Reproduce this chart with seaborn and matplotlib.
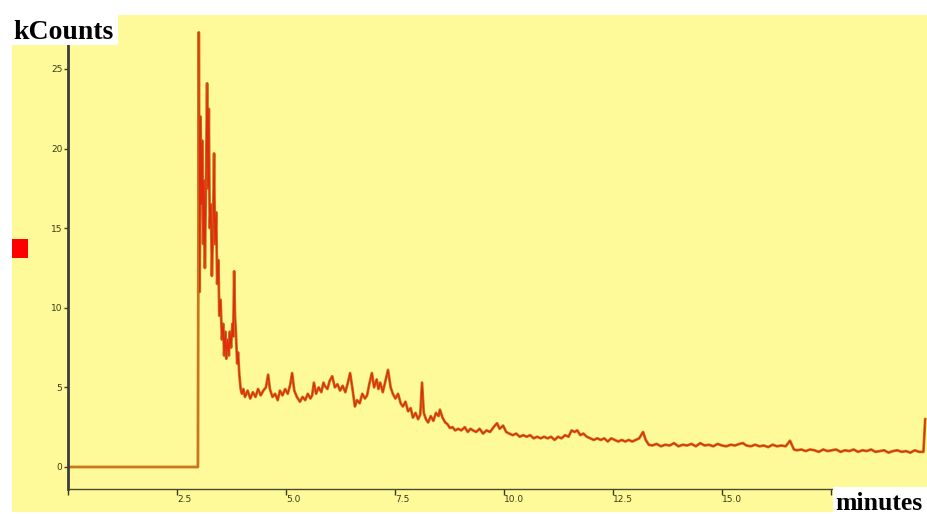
import matplotlib
matplotlib.use("Agg")
import matplotlib.pyplot as plt
from matplotlib.patches import Rectangle
import pandas as pd
import seaborn as sns

# Chromatogram trace: retention time (minutes) and detector signal (kCounts)
time_min = [
    0.00, 2.98, 3.00, 3.02, 3.04, 3.06, 3.08, 3.10, 3.12, 3.14, 3.17, 3.19,
    3.21, 3.23, 3.25, 3.28, 3.30, 3.33, 3.35, 3.37, 3.40, 3.42, 3.45, 3.47,
    3.50, 3.53, 3.56, 3.58, 3.61, 3.63, 3.66, 3.69, 3.71, 3.74, 3.77, 3.79,
    3.81, 3.83, 3.85, 3.88, 3.90, 3.93, 3.96, 3.99, 4.02,
    4.06, 4.12, 4.18, 4.24, 4.30, 4.36, 4.42, 4.48, 4.54, 4.59, 4.63, 4.69,
    4.75, 4.81, 4.86, 4.92, 4.98, 5.04, 5.10, 5.14, 5.19, 5.25, 5.32, 5.38,
    5.44, 5.50, 5.56, 5.60, 5.64, 5.69, 5.75, 5.81, 5.86, 5.89, 5.95, 6.00,
    6.06, 6.12, 6.18, 6.24, 6.30, 6.36, 6.42, 6.47, 6.52, 6.58, 6.63, 6.69,
    6.75, 6.81, 6.86, 6.91, 6.97, 7.02, 7.08, 7.12, 7.16, 7.22, 7.28, 7.34,
    7.40, 7.45, 7.51, 7.57, 7.63, 7.68, 7.74, 7.80, 7.86, 7.91, 7.97, 8.03,
    8.08, 8.12, 8.16, 8.21, 8.26, 8.32, 8.38, 8.44, 8.50, 8.53, 8.59, 8.65,
    8.70, 8.76, 8.82, 8.88, 8.95, 9.02, 9.10, 9.17, 9.23, 9.29, 9.36, 9.44,
    9.52, 9.60, 9.68, 9.76, 9.84, 9.90, 9.98, 10.05, 10.12, 10.20, 10.28,
    10.36, 10.44, 10.52, 10.60, 10.68, 10.76, 10.84, 10.92, 11.00, 11.08,
    11.16, 11.24, 11.32, 11.40, 11.48, 11.55, 11.62, 11.68, 11.75, 11.82,
    11.90, 11.98, 12.06, 12.14, 12.22, 12.30, 12.38, 12.46, 12.54, 12.62,
    12.70, 12.78, 12.86, 12.94, 13.02, 13.10, 13.19, 13.25, 13.32, 13.40,
    13.50, 13.60, 13.70, 13.80, 13.90, 14.00, 14.10, 14.20, 14.30, 14.40,
    14.50, 14.60, 14.70, 14.80, 14.90, 15.00, 15.10, 15.20, 15.30, 15.40,
    15.48, 15.56, 15.66, 15.76, 15.86, 15.96, 16.06, 16.16, 16.26, 16.36,
    16.46, 16.56, 16.65, 16.72, 16.82, 16.92, 17.02, 17.12, 17.22, 17.32,
    17.42, 17.52, 17.62, 17.72, 17.82, 17.92, 18.02, 18.12, 18.22, 18.32,
    18.42, 18.52, 18.62, 18.72, 18.82, 18.92, 19.02, 19.12, 19.22, 19.32,
    19.42, 19.52, 19.62, 19.66,
]
kcounts = [
    0.0, 0.0, 27.3, 11.0, 22.0, 16.5, 20.5, 14.0, 18.0, 12.5, 19.0, 24.1,
    17.5, 22.5, 15.0, 16.5, 12.0, 15.5, 19.7, 14.0, 16.0, 11.5, 13.0, 9.5,
    10.5, 8.0, 9.0, 7.0, 8.5, 6.8, 8.0, 7.0, 8.5, 7.5, 9.0, 8.2,
    12.3, 9.5, 8.5, 6.5, 7.2, 5.8, 4.9, 4.6, 4.9,
    4.4, 4.8, 4.3, 4.7, 4.4, 4.9, 4.5, 4.8, 5.0, 5.8, 4.9, 4.4,
    4.6, 4.2, 4.8, 4.5, 4.9, 4.6, 5.2, 5.9, 4.8, 4.4, 4.1, 4.4,
    4.2, 4.6, 4.3, 4.5, 5.3, 4.6, 5.0, 4.7, 5.3, 5.1, 4.9, 5.4,
    5.7, 5.0, 5.2, 4.8, 5.1, 4.7, 5.3, 5.9, 5.0, 3.8, 4.2, 4.0,
    4.6, 4.3, 4.5, 5.2, 5.9, 5.0, 5.5, 4.9, 5.3, 4.7, 5.4, 6.1,
    5.0, 4.6, 4.3, 4.6, 4.0, 3.8, 4.1, 3.5, 3.7, 3.1, 3.4, 3.0,
    3.3, 5.3, 3.4, 3.0, 2.8, 3.2, 2.9, 3.4, 3.2, 3.6, 3.1, 2.8,
    2.7, 2.45, 2.5, 2.3, 2.4, 2.3, 2.5, 2.2, 2.4, 2.3, 2.2, 2.4,
    2.1, 2.3, 2.2, 2.5, 2.75, 2.4, 2.6, 2.2, 2.1, 2.0, 2.1,
    1.9, 2.0, 1.9, 2.0, 1.8, 1.9, 1.8, 1.9, 1.8, 1.9,
    1.7, 1.9, 1.8, 2.0, 1.9, 2.3, 2.2, 2.3, 2.0, 2.1,
    1.9, 1.8, 1.7, 1.8, 1.7, 1.8, 1.6, 1.8, 1.7, 1.6,
    1.7, 1.6, 1.7, 1.6, 1.7, 1.8, 2.2, 1.7, 1.4, 1.35,
    1.45, 1.3, 1.4, 1.35, 1.5, 1.3, 1.4, 1.35, 1.45, 1.3,
    1.5, 1.35, 1.4, 1.3, 1.45, 1.35, 1.3, 1.4, 1.35, 1.45,
    1.5, 1.35, 1.3, 1.4, 1.3, 1.35, 1.25, 1.4, 1.3, 1.35,
    1.3, 1.65, 1.1, 1.05, 1.1, 1.0, 1.1, 1.05, 0.95, 1.1,
    1.0, 1.05, 1.1, 0.95, 1.05, 1.0, 1.1, 0.95, 1.05, 1.0,
    1.1, 0.95, 1.0, 1.05, 0.9, 1.0, 1.05, 0.95, 1.0, 0.9,
    1.05, 0.95, 0.95, 3.0,
]

x_ticks = [0.0, 2.5, 5.0, 7.5, 10.0, 12.5, 15.0, 17.5]
x_tick_labels = ["", "2.5", "5.0", "7.5", "10.0", "12.5", "15.0", ""]
y_ticks = [0, 5, 10, 15, 20, 25]
y_tick_labels = ["0", "5", "10", "15", "20", "25"]

df = pd.DataFrame({"minutes": time_min, "kCounts": kcounts})
signal = df[df["minutes"] >= 2.99]

W, H = 928, 514
fig = plt.figure(figsize=(W / 100, H / 100), dpi=100, facecolor="white")


def px_rect(x0, y0, x1, y1, **kw):
    """Rectangle given in pixel coordinates measured from the top-left."""
    return Rectangle((x0 / W, 1 - y1 / H), (x1 - x0) / W, (y1 - y0) / H,
                     transform=fig.transFigure, **kw)


# yellow panel behind the plot
fig.patches.append(px_rect(12, 15, 928, 512, facecolor="#FFFA99",
                           edgecolor="none", zorder=-5))

ax = fig.add_axes([68 / W, 1 - 489 / H, (W - 68) / W, (489 - 15) / H])
ax.set_facecolor("none")
ax.set_zorder(1)

sns.lineplot(data=df, x="minutes", y="kCounts", ax=ax, estimator=None,
             sort=False, color="#C8781A", linewidth=2.0)
sns.lineplot(data=signal, x="minutes", y="kCounts", ax=ax, estimator=None,
             sort=False, color="#E61E0C", linewidth=0.9, alpha=0.85)

ax.set_xlim(0, (W - 68) / 43.6)
ax.set_ylim(-22 / 15.92, (467 - 15) / 15.92)
ax.set_xlabel("")
ax.set_ylabel("")

for side in ("top", "right"):
    ax.spines[side].set_visible(False)
ax.spines["left"].set_color("#3C3C3C")
ax.spines["left"].set_linewidth(2.0)
ax.spines["bottom"].set_color("#4A4A30")
ax.spines["bottom"].set_linewidth(1.0)

ax.set_yticks(y_ticks)
ax.set_yticklabels(y_tick_labels)
ax.set_xticks(x_ticks)
ax.set_xticklabels(x_tick_labels, ha="left")
ax.tick_params(axis="y", direction="out", length=3, width=1, pad=1,
               labelsize=6.5, colors="#3A3A14")
ax.tick_params(axis="x", direction="out", length=4.5, width=1, pad=0,
               labelsize=6.5, colors="#3A3A14")
ax.grid(False)

# axis titles in white boxes
fig.patches.append(px_rect(10, 10, 118, 45, facecolor="white",
                           edgecolor="none", zorder=5))
fig.text(13 / W, 1 - 39 / H, "kCounts", fontsize=20, fontweight="bold",
         family="Liberation Serif", ha="left", va="baseline", zorder=6)
fig.patches.append(px_rect(833, 487, 928, 514, facecolor="white",
                           edgecolor="none", zorder=5))
fig.text(835 / W, 1 - 510 / H, "minutes", fontsize=18.5, fontweight="bold",
         family="Liberation Serif", ha="left", va="baseline", zorder=6)

# red level marker on the left edge
fig.patches.append(px_rect(12, 239, 28, 258, facecolor="#FF0000",
                           edgecolor="none", zorder=5))

fig.savefig("out.png", dpi=100, facecolor="white")
